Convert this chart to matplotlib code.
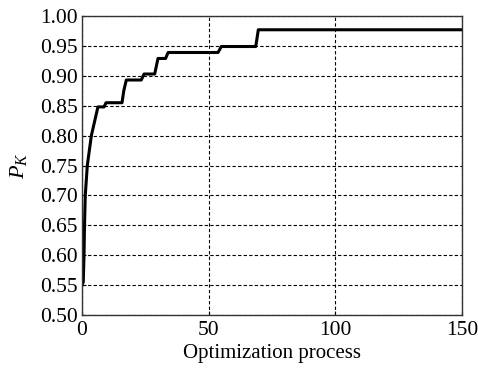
import matplotlib
matplotlib.use('Agg')
import matplotlib.pyplot as plt

# step curve (iteration, P_K)
steps = [0, 0.5, 0.8, 1.0, 1.3, 2.1, 3.7, 6.3, 8.7, 9.5, 15.8, 16.5, 17.5, 23.4, 24.5, 28.7, 30.0, 33.0, 34.0, 53.7, 55.0, 68.6, 69.6, 150]
pk = [0.55, 0.555, 0.60, 0.65, 0.70, 0.75, 0.80, 0.848, 0.848, 0.855, 0.855, 0.875, 0.893, 0.893, 0.903, 0.903, 0.929, 0.929, 0.939, 0.939, 0.949, 0.949, 0.977, 0.977]

x_ticks = [0, 50, 100, 150]
y_ticks = [0.50, 0.55, 0.60, 0.65, 0.70, 0.75, 0.80, 0.85, 0.90, 0.95, 1.00]

plt.rcParams['font.family'] = ['Liberation Serif', 'DejaVu Serif']
plt.rcParams['mathtext.fontset'] = 'custom'
plt.rcParams['mathtext.it'] = 'Liberation Serif:italic'
plt.rcParams['mathtext.rm'] = 'Liberation Serif'

fig = plt.figure(figsize=(4.78, 3.69), dpi=100)
ax = fig.add_axes([0.1715, 0.1463, 0.795, 0.8103])

ax.plot(steps, pk, color='black', linewidth=2.2)

ax.set_xlim(0, 150)
ax.set_ylim(0.5, 1.0)
ax.set_xticks(x_ticks)
ax.set_yticks(y_ticks)
ax.set_yticklabels(['%.2f' % v for v in y_ticks])
ax.tick_params(direction='in', length=3, labelsize=15.5)
ax.tick_params(axis='x', pad=4)
ax.tick_params(axis='y', pad=3)
ax.grid(True, color='black', linestyle=(0, (3, 2)), linewidth=0.8)

for s in ax.spines.values():
    s.set_linewidth(1.0)
    s.set_color('#333333')

ax.set_xlabel('Optimization process', fontsize=15, labelpad=3)
ax.set_ylabel('$P_K$', fontsize=16, labelpad=8)

fig.savefig('out.png', dpi=100)
